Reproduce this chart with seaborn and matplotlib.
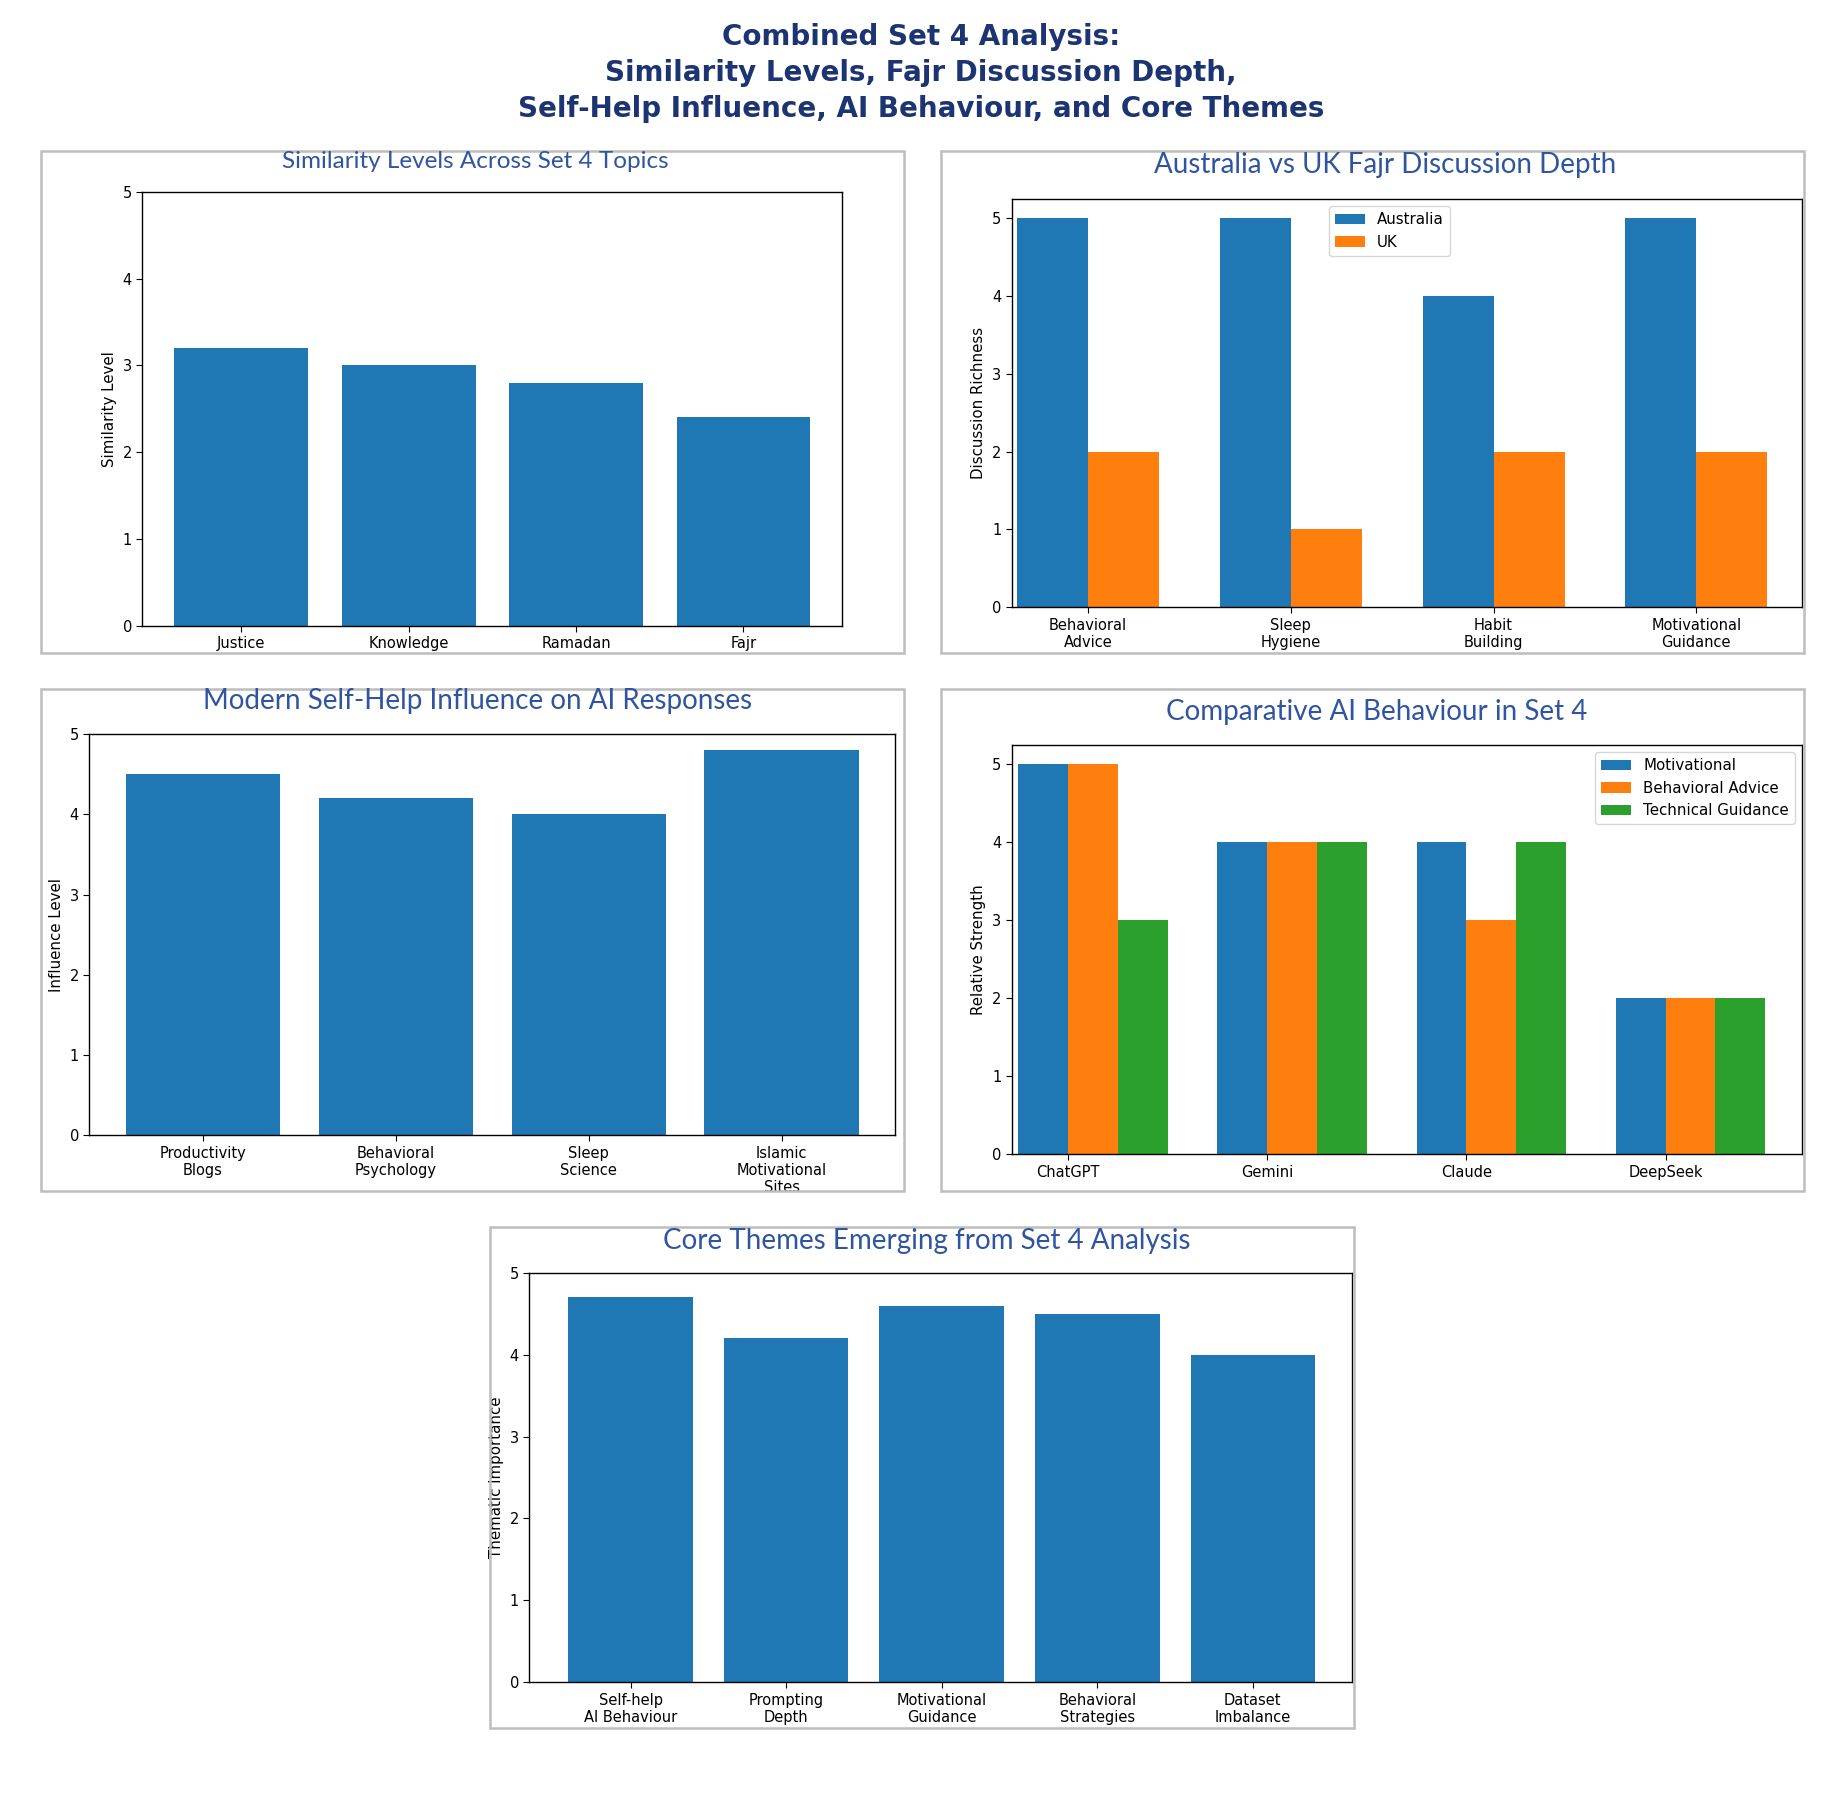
import numpy as np
import pandas as pd
import matplotlib
matplotlib.use("Agg")
import matplotlib.pyplot as plt
from matplotlib.patches import Rectangle
import seaborn as sns

# ---------------- data ----------------
sim_topics = ["Justice", "Knowledge", "Ramadan", "Fajr"]
sim_values = [3.2, 3.0, 2.8, 2.4]

fajr_cats = ["Behavioral\nAdvice", "Sleep\nHygiene", "Habit\nBuilding", "Motivational\nGuidance"]
fajr_australia = [5, 5, 4, 5]
fajr_uk = [2, 1, 2, 2]

selfhelp_sources = ["Productivity\nBlogs", "Behavioral\nPsychology", "Sleep\nScience", "Islamic\nMotivational\nSites"]
selfhelp_values = [4.5, 4.2, 4.0, 4.8]

ai_models = ["ChatGPT", "Gemini", "Claude", "DeepSeek"]
ai_motivational = [5, 4, 4, 2]
ai_behavioral = [5, 4, 3, 2]
ai_technical = [3, 4, 4, 2]

core_themes = ["Self-help\nAI Behaviour", "Prompting\nDepth", "Motivational\nGuidance",
               "Behavioral\nStrategies", "Dataset\nImbalance"]
core_values = [4.7, 4.2, 4.6, 4.5, 4.0]

BLUE, ORANGE, GREEN = "#1f77b4", "#ff7f0e", "#2ca02c"
TITLE_COLOR = "#2f55a0"
SUP_COLOR = "#1c3472"
BORDER = "#bdbdbd"

plt.rcParams["font.family"] = ["DejaVu Sans"]

fig = plt.figure(figsize=(18.35, 18), dpi=100)

fig.text(0.502, 0.9594,
         "Combined Set 4 Analysis:\nSimilarity Levels, Fajr Discussion Depth,\n"
         "Self-Help Influence, AI Behaviour, and Core Themes",
         ha="center", va="center", fontsize=20, fontweight="bold",
         color=SUP_COLOR, linespacing=1.35)

def border(x0, x1, y0, y1):
    fig.patches.append(Rectangle((x0, y0), x1 - x0, y1 - y0, transform=fig.transFigure,
                                 fill=False, edgecolor=BORDER, linewidth=1.8, zorder=0))

def ptitle(x, y, s, size=20):
    fig.text(x, y, s, ha="center", va="center", fontsize=size, color=TITLE_COLOR,
             family=["Lato", "DejaVu Sans"])

def style(ax, ylabel, ylim):
    ax.set_ylim(*ylim)
    ax.set_xlabel("")
    ax.set_ylabel(ylabel, fontsize=10.8)
    ax.tick_params(axis="both", labelsize=10.5, length=4)
    for sp in ax.spines.values():
        sp.set_color("black")
        sp.set_linewidth(1.0)

def relegend(ax, **kw):
    leg = ax.get_legend()
    h = leg.legend_handles
    l = [t.get_text() for t in leg.get_texts()]
    ax.legend(h, l, fontsize=10.8, **kw)

# ---- Panel 1 ----
border(0.0224, 0.4929, 0.6373, 0.9163)
ax1 = fig.add_axes([0.0776, 0.6523, 0.3814, 0.2412])
df1 = pd.DataFrame({"Topic": sim_topics, "Value": sim_values})
sns.barplot(data=df1, x="Topic", y="Value", color=BLUE, saturation=1, width=0.8, ax=ax1)
style(ax1, "Similarity Level", (0, 5))
ax1.set_xlim(-0.59, 3.59)
ptitle(0.259, 0.9105, "Similarity Levels Across Set 4 Topics", size=17.5)

# ---- Panel 2 ----
border(0.5128, 0.9833, 0.6373, 0.9163)
ax2 = fig.add_axes([0.5513, 0.6627, 0.4308, 0.2268])
df2 = pd.DataFrame({
    "Category": fajr_cats * 2,
    "Value": fajr_australia + fajr_uk,
    "Country": ["Australia"] * len(fajr_cats) + ["UK"] * len(fajr_cats),
})
sns.barplot(data=df2, x="Category", y="Value", hue="Country", palette=[BLUE, ORANGE],
            saturation=1, width=0.7, gap=0, ax=ax2)
style(ax2, "Discussion Richness", (0, 5.25))
ax2.set_xlim(-0.377, 3.522)
relegend(ax2, loc="upper center", bbox_to_anchor=(0.478, 1.0))
ptitle(0.7551, 0.9085, "Australia vs UK Fajr Discussion Depth")

# ---- Panel 3 ----
border(0.0224, 0.4929, 0.3386, 0.6170)
ax3 = fig.add_axes([0.0487, 0.3693, 0.4391, 0.2229])
df3 = pd.DataFrame({"Source": selfhelp_sources, "Value": selfhelp_values})
sns.barplot(data=df3, x="Source", y="Value", color=BLUE, saturation=1, width=0.8, ax=ax3)
style(ax3, "Influence Level", (0, 5))
ax3.set_xlim(-0.588, 3.588)
ptitle(0.2603, 0.6105, "Modern Self-Help Influence on AI Responses")

# ---- Panel 4 ----
border(0.5128, 0.9833, 0.3386, 0.6170)
ax4 = fig.add_axes([0.5513, 0.3588, 0.4308, 0.2275])
df4 = pd.DataFrame({
    "Model": ai_models * 3,
    "Value": ai_motivational + ai_behavioral + ai_technical,
    "Type": ["Motivational"] * 4 + ["Behavioral Advice"] * 4 + ["Technical Guidance"] * 4,
})
sns.barplot(data=df4, x="Model", y="Value", hue="Type", palette=[BLUE, ORANGE, GREEN],
            saturation=1, width=0.75, gap=0, ax=ax4)
style(ax4, "Relative Strength", (0, 5.25))
# ticks sit at the boundary between first and second bar of each group
orange_bars = [p for p in ax4.patches if p.get_height() > 0][4:8]
tick_pos = [p.get_x() for p in orange_bars]
ax4.set_xticks(tick_pos)
ax4.set_xticklabels(ai_models)
ax4.set_xlim(tick_pos[0] - 0.283, tick_pos[0] + 3.686)
relegend(ax4, loc="upper right")
ptitle(0.75, 0.6046, "Comparative AI Behaviour in Set 4")

# ---- Panel 5 ----
border(0.2673, 0.7378, 0.0399, 0.3183)
ax5 = fig.add_axes([0.2885, 0.0654, 0.4481, 0.2275])
df5 = pd.DataFrame({"Theme": core_themes, "Value": core_values})
sns.barplot(data=df5, x="Theme", y="Value", color=BLUE, saturation=1, width=0.8, ax=ax5)
style(ax5, "Thematic Importance", (0, 5))
ax5.set_xlim(-0.65, 4.635)
ptitle(0.5051, 0.3105, "Core Themes Emerging from Set 4 Analysis")

fig.savefig("out.png", dpi=100)
